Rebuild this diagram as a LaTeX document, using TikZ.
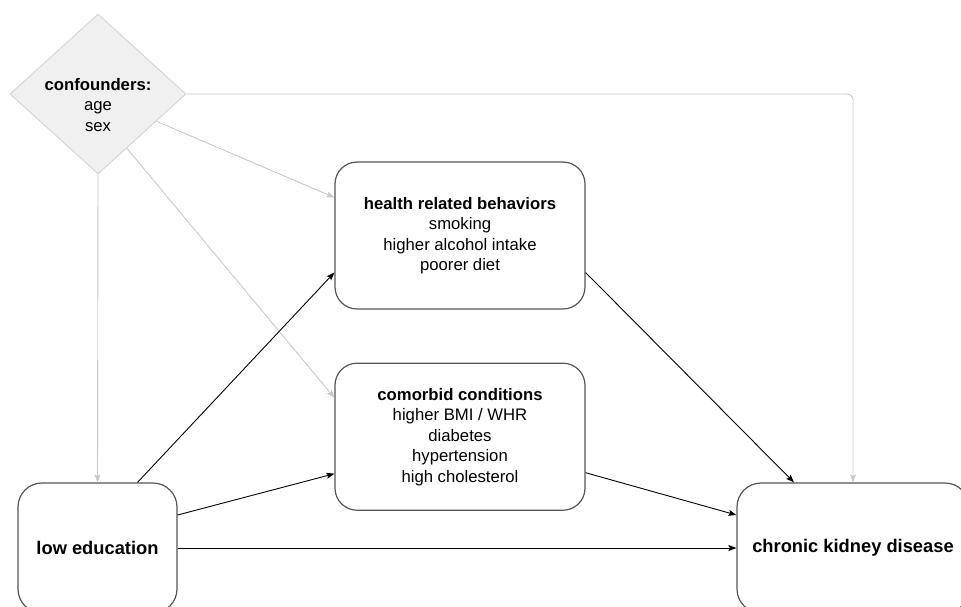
\documentclass[tikz,border=0pt]{standalone}
\usepackage{fontspec}
\setmainfont{Liberation Sans}
\usetikzlibrary{arrows.meta,positioning,shapes.geometric}
\definecolor{confill}{HTML}{F0F0F0}
\definecolor{conline}{HTML}{D6D6D6}
\definecolor{lightarr}{HTML}{C8C8C8}
\definecolor{boxline}{HTML}{555555}

\begin{document}
\begin{tikzpicture}[
  x=1pt, y=-1pt,
  txt/.style={font=\fontsize{16.7pt}{20.5pt}\selectfont, align=center},
  block/.style={txt, draw=boxline, line width=1.2pt, rounded corners=22pt, minimum width=250pt, minimum height=147pt},
  endbox/.style={txt, font=\fontsize{18.3pt}{22pt}\selectfont, draw=boxline, line width=1.2pt, rounded corners=24pt, minimum height=130pt},
  confound/.style={draw=conline, fill=confill, diamond, line width=1pt, inner sep=0pt, minimum width=176pt, minimum height=160pt},
  arr/.style={-{Stealth[length=8pt,width=6pt,inset=1.5pt]}, line width=0.9pt},
  grayarr/.style={arr, draw=lightarr}
]
\clip (0,0) rectangle (961,606);

\node[confound] (conf) at (98,94) {};
\node[txt] (conftext) at (98,105) {\textbf{confounders:}\\age\\sex};
\node[block] (hrb) at (460,235.5) {\textbf{health related behaviors}\\smoking\\higher alcohol intake\\poorer diet};
\node[block, below=53pt of hrb] (com) {\textbf{comorbid conditions}\\higher BMI / WHR\\diabetes\\hypertension\\high cholesterol};
\node[endbox, minimum width=159pt] (edu) at (97.5,548) {\textbf{low education}};
\node[endbox, minimum width=232pt] (ckd) at (853,548) {\textbf{chronic kidney disease}};

\draw[grayarr, rounded corners=6pt] (conf.east) -| (ckd.north);
\draw[grayarr] (conf.south) -- (edu.north);
\draw[grayarr] (conf.-25) -- ([yshift=38pt]hrb.west);
\draw[grayarr] (conf.-62) -- ([yshift=39pt]com.west);
\draw[arr] ([xshift=40pt]edu.north) -- ([yshift=-37pt]hrb.west);
\draw[arr] ([yshift=33pt]edu.east) -- ([yshift=-37pt]com.west);
\draw[arr] (edu.east) -- (ckd.west);
\draw[arr] ([yshift=-37pt]hrb.east) -- ([xshift=-59pt]ckd.north);
\draw[arr] ([yshift=-36pt]com.east) -- ([yshift=33pt]ckd.west);
\end{tikzpicture}
\end{document}
